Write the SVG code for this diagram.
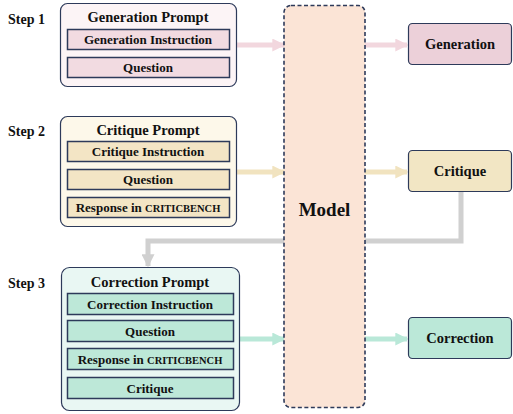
<svg xmlns="http://www.w3.org/2000/svg" width="513" height="414" viewBox="0 0 513 414">
<defs>
<style>
text{font-family:"Liberation Serif","Times New Roman",serif;font-weight:bold;fill:#111;text-anchor:middle;}
.step{font-size:14px;text-anchor:start;}
.title{font-size:14.5px;}
.item{font-size:13px;}
.sc{font-size:10.5px;}
.out{font-size:14.5px;}
.inner{stroke:#2d3a5a;stroke-width:1.5;}
.outer{stroke:#2d3a5a;stroke-width:1.2;}
.conn{fill:none;stroke-width:5;}
</style>
<marker id="ap" viewBox="0 0 10 10" refX="9" refY="5" markerWidth="2.6" markerHeight="2.6" orient="auto" markerUnits="strokeWidth"><path d="M0,0L10,5L0,10z" fill="#f2d7de"/></marker>
<marker id="ab" viewBox="0 0 10 10" refX="9" refY="5" markerWidth="2.6" markerHeight="2.6" orient="auto" markerUnits="strokeWidth"><path d="M0,0L10,5L0,10z" fill="#f1e3bf"/></marker>
<marker id="am" viewBox="0 0 10 10" refX="9" refY="5" markerWidth="2.6" markerHeight="2.6" orient="auto" markerUnits="strokeWidth"><path d="M0,0L10,5L0,10z" fill="#b9e8d8"/></marker>
<marker id="ag" viewBox="0 0 10 10" refX="9" refY="5" markerWidth="2.6" markerHeight="2.6" orient="auto" markerUnits="strokeWidth"><path d="M0,0L10,5L0,10z" fill="#d0d0d0"/></marker>
</defs>
<rect width="513" height="414" fill="#fff"/>

<g id="connectors">
<path class="conn" d="M461,192V241H148V266" stroke="#d0d0d0" marker-end="url(#ag)"/>
<path class="conn" d="M237,45H284" stroke="#f2d7de" marker-end="url(#ap)"/>
<path class="conn" d="M365,45H407" stroke="#f2d7de" marker-end="url(#ap)"/>
<path class="conn" d="M237,172H284" stroke="#f1e3bf" marker-end="url(#ab)"/>
<path class="conn" d="M365,172H407" stroke="#f1e3bf" marker-end="url(#ab)"/>
<path class="conn" d="M240,339H284" stroke="#b9e8d8" marker-end="url(#am)"/>
<path class="conn" d="M365,339H407" stroke="#b9e8d8" marker-end="url(#am)"/>
</g>

<g id="labels">
<text class="step" x="8" y="24">Step 1</text>
<text class="step" x="8" y="136">Step 2</text>
<text class="step" x="8" y="288">Step 3</text>
</g>

<g id="step1">
<rect class="outer" x="60.5" y="3.5" width="176" height="83" rx="7" fill="#fcf4f6"/>
<text class="title" x="148" y="22">Generation Prompt</text>
<rect class="inner" x="67.5" y="29.5" width="162" height="20" fill="#f2dbe1"/>
<text class="item" x="148" y="44">Generation Instruction</text>
<rect class="inner" x="67.5" y="57.5" width="162" height="20" fill="#f2dbe1"/>
<text class="item" x="148" y="72">Question</text>
</g>

<g id="step2">
<rect class="outer" x="60.5" y="116.5" width="176" height="110" rx="7" fill="#fdf8ea"/>
<text class="title" x="148" y="135">Critique Prompt</text>
<rect class="inner" x="67.5" y="141.5" width="162" height="20" fill="#f3e5c5"/>
<text class="item" x="148" y="156">Critique Instruction</text>
<rect class="inner" x="67.5" y="169.5" width="162" height="20" fill="#f3e5c5"/>
<text class="item" x="148" y="184">Question</text>
<rect class="inner" x="67.5" y="197.5" width="162" height="20" fill="#f3e5c5"/>
<text class="item" x="148" y="212">Response in <tspan class="sc">CRITICBENCH</tspan></text>
</g>

<g id="step3">
<rect class="outer" x="61.5" y="267.5" width="178" height="143" rx="8" fill="#e9f7f3"/>
<text class="title" x="150" y="287">Correction Prompt</text>
<rect class="inner" x="67.5" y="293.5" width="166" height="21" fill="#bde8d8"/>
<text class="item" x="150" y="309">Correction Instruction</text>
<rect class="inner" x="67.5" y="320.5" width="166" height="21" fill="#bde8d8"/>
<text class="item" x="150" y="336">Question</text>
<rect class="inner" x="67.5" y="348.5" width="166" height="21" fill="#bde8d8"/>
<text class="item" x="150" y="364">Response in <tspan class="sc">CRITICBENCH</tspan></text>
<rect class="inner" x="67.5" y="377.5" width="166" height="21" fill="#bde8d8"/>
<text class="item" x="150" y="393">Critique</text>
</g>

<g id="model">
<rect x="284" y="5.5" width="81" height="402" rx="7" fill="#fbe4d6" stroke="#2d3a5a" stroke-width="1.6" stroke-dasharray="4,2.5"/>
<text x="324.5" y="216" style="font-size:19px">Model</text>
</g>

<g id="generation">
<rect class="outer" x="408.5" y="23.5" width="103" height="41" rx="4" fill="#ecd0d9"/>
<text class="out" x="460" y="49">Generation</text>
</g>
<g id="critique">
<rect class="outer" x="408.5" y="150.5" width="103" height="41" rx="4" fill="#f2e6c4"/>
<text class="out" x="460" y="176">Critique</text>
</g>
<g id="correction">
<rect class="outer" x="408.5" y="317.5" width="103" height="41" rx="4" fill="#bbe8d8"/>
<text class="out" x="460" y="343">Correction</text>
</g>
</svg>
